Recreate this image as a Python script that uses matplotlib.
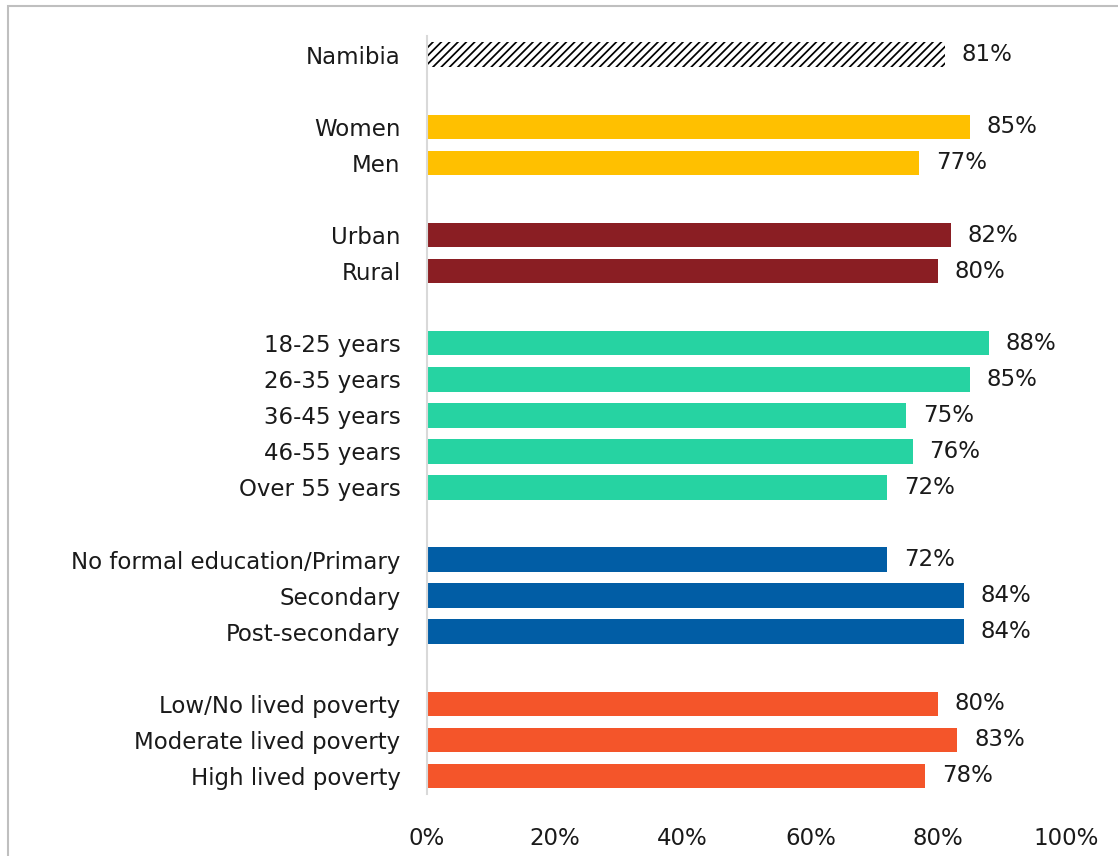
import matplotlib
matplotlib.use("Agg")
import matplotlib.pyplot as plt
from matplotlib.patches import Rectangle

# survey results, % by subgroup
labels = ["Namibia",
          "Women", "Men",
          "Urban", "Rural",
          "18-25 years", "26-35 years", "36-45 years", "46-55 years", "Over 55 years",
          "No formal education/Primary", "Secondary", "Post-secondary",
          "Low/No lived poverty", "Moderate lived poverty", "High lived poverty"]
values = [81,
          85, 77,
          82, 80,
          88, 85, 75, 76, 72,
          72, 84, 84,
          80, 83, 78]
group_sizes = [1, 2, 2, 5, 3, 3]
group_colors = ["white", "#FFC000", "#8A1E23", "#26D3A2", "#015DA5", "#F4552A"]
ticks = [0, 20, 40, 60, 80, 100]

plt.rcParams["font.family"] = ["DejaVu Sans"]
plt.rcParams["hatch.linewidth"] = 1.25
FS = 16.5

W, H = 1118, 856
fig = plt.figure(figsize=(W / 100, H / 100), dpi=100)
ax = fig.add_axes([427 / W, 1 - 794 / H, (1066 - 427) / W, (794 - 36) / H])

# one blank row between groups
pos, colors = [], []
row = 0
for size, col in zip(group_sizes, group_colors):
    for _ in range(size):
        pos.append(row)
        colors.append(col)
        row += 1
    row += 1

for i, (p, v, c) in enumerate(zip(pos, values, colors)):
    if i == 0:
        ax.barh(p, v, height=0.68, color="white", edgecolor="black",
                hatch="////", linewidth=0)
    else:
        ax.barh(p, v, height=0.68, color=c, linewidth=0)
    ax.annotate(f"{v}%", (v, p), xytext=(12, 0), textcoords="offset points",
                va="center", ha="left", fontsize=FS, color="#1a1a1a")

ax.set_xlim(0, 100)
ax.set_ylim(pos[-1] + 0.5, -0.52)
ax.set_yticks(pos)
ax.set_yticklabels(labels, fontsize=FS, color="#1a1a1a")
ax.set_xticks(ticks)
ax.set_xticklabels([f"{t}%" for t in ticks], fontsize=FS, color="#1a1a1a")
ax.tick_params(axis="both", length=0)
ax.tick_params(axis="x", pad=24)
ax.tick_params(axis="y", pad=19)
for s in ["top", "right", "bottom"]:
    ax.spines[s].set_visible(False)
ax.spines["left"].set_color("#d9d9d9")
ax.spines["left"].set_linewidth(1.5)

# outer chart frame
fig.patches.append(Rectangle((8 / W, -0.1), 1.2, 1 - 6 / H + 0.1,
                             transform=fig.transFigure, fill=False,
                             edgecolor="#bfbfbf", linewidth=1.5))

fig.savefig("out.png", dpi=100)
